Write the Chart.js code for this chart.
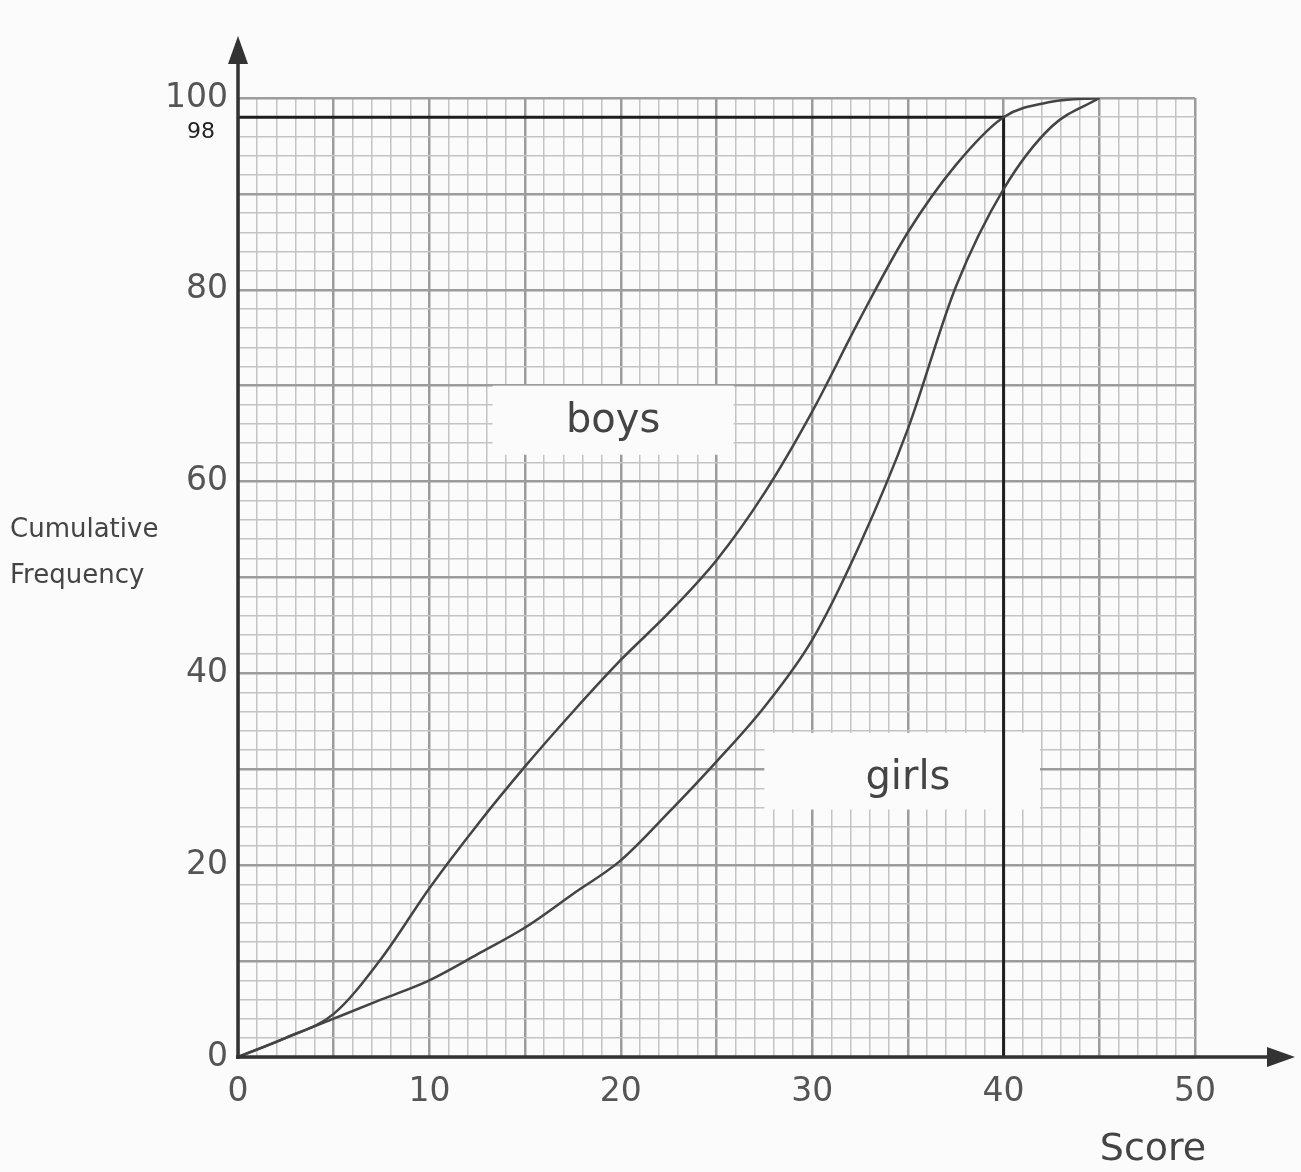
<!doctype html>
<html lang="en">
<head>
    <meta charset="utf-8">
    <title>Cumulative Frequency - boys and girls</title>
    <script src="https://cdn.jsdelivr.net/npm/chart.js"></script>
    <style>
        html, body { margin: 0; padding: 0; background: #fbfbfb; }
        #wrap { width: 1301px; height: 1172px; }
    </style>
</head>
<body>
<div id="wrap"><canvas id="cf"></canvas></div>
<script>
    // scores every 2.5 marks
    var scoreMarks = [0, 2.5, 5, 7.5, 10, 12.5, 15, 17.5, 20, 22.5, 25, 27.5, 30, 32.5, 35, 37.5, 40, 42.5, 45];
    var boysCF = [0, 2, 4.5, 10.3, 17.6, 24.2, 30.3, 36, 41.4, 46.3, 51.8, 58.8, 67.3, 77, 86, 93, 98, 99.6, 100];
    var girlsCF = [0, 2, 4, 6, 8, 10.7, 13.5, 17, 20.5, 25.5, 30.8, 36.5, 43.5, 53.5, 65.5, 80.3, 90.5, 97, 100];

    // the reading drawn at cumulative frequency 98
    var readX = [0, 40, 40];
    var readY = [98, 98, 0];

    var xTickLabels = [0, 10, 20, 30, 40, 50];
    var yTickLabels = [0, 20, 40, 60, 80, 100];

    function toPoints(xs, ys) {
        return xs.map(function (x, i) { return {x: x, y: ys[i]}; });
    }

    var FONT = "'DejaVu Sans', sans-serif";

    var paperPlugin = {
        id: 'paper',
        beforeDatasetsDraw: function (chart) {
            var ctx = chart.ctx, xs = chart.scales.x, ys = chart.scales.y;
            var boxes = [
                {text: 'boys', x0: 13.3, x1: 25.9, y0: 70, y1: 62.8, tx: 19.6, ty: 66.3},
                {text: 'girls', x0: 27.5, x1: 41.9, y0: 33.8, y1: 25.8, tx: 35, ty: 29}
            ];
            ctx.save();
            boxes.forEach(function (b) {
                var l = xs.getPixelForValue(b.x0), r = xs.getPixelForValue(b.x1);
                var t = ys.getPixelForValue(b.y0), bt = ys.getPixelForValue(b.y1);
                ctx.fillStyle = '#fbfbfb';
                ctx.fillRect(l, t, r - l, bt - t);
                ctx.fillStyle = '#444';
                ctx.font = '40px ' + FONT;
                ctx.textAlign = 'center';
                ctx.textBaseline = 'middle';
                ctx.fillText(b.text, xs.getPixelForValue(b.tx), ys.getPixelForValue(b.ty));
            });
            ctx.restore();
        },
        afterDatasetsDraw: function (chart) {
            var ctx = chart.ctx, a = chart.chartArea;
            var ox = a.left, oy = a.bottom;
            ctx.save();
            ctx.strokeStyle = '#333';
            ctx.fillStyle = '#333';
            ctx.lineWidth = 3.5;
            // y axis with arrow
            ctx.beginPath();
            ctx.moveTo(ox, oy + 2);
            ctx.lineTo(ox, 55);
            ctx.stroke();
            ctx.beginPath();
            ctx.moveTo(ox, 36);
            ctx.lineTo(ox - 10, 64);
            ctx.lineTo(ox + 10, 64);
            ctx.closePath();
            ctx.fill();
            // x axis with arrow
            ctx.beginPath();
            ctx.moveTo(ox - 2, oy);
            ctx.lineTo(1275, oy);
            ctx.stroke();
            ctx.beginPath();
            ctx.moveTo(1295, oy);
            ctx.lineTo(1267, oy - 10);
            ctx.lineTo(1267, oy + 10);
            ctx.closePath();
            ctx.fill();

            // titles
            ctx.fillStyle = '#444';
            ctx.textAlign = 'left';
            ctx.textBaseline = 'middle';
            ctx.font = '26px ' + FONT;
            ctx.fillText('Cumulative', 10, 530);
            ctx.fillText('Frequency', 10, 576);
            ctx.font = '38px ' + FONT;
            ctx.textAlign = 'center';
            ctx.fillText('Score', 1153, 1150);

            // handwritten 98
            ctx.fillStyle = '#222';
            ctx.font = '22px ' + FONT;
            ctx.fillText('98', ox - 37, chart.scales.y.getPixelForValue(98) + 15);
            ctx.restore();
        }
    };

    var ctx = document.getElementById('cf');
    var chart = new Chart(ctx, {
        type: 'line',
        data: {
            datasets: [{
                label: 'boys',
                data: toPoints(scoreMarks, boysCF),
                borderColor: '#444',
                borderWidth: 2.5,
                cubicInterpolationMode: 'monotone',
                pointRadius: 0,
                fill: false
            }, {
                label: 'girls',
                data: toPoints(scoreMarks, girlsCF),
                borderColor: '#444',
                borderWidth: 2.5,
                cubicInterpolationMode: 'monotone',
                pointRadius: 0,
                fill: false
            }, {
                label: 'reading',
                data: toPoints(readX, readY),
                borderColor: '#1e1e1e',
                borderWidth: 3,
                tension: 0,
                pointRadius: 0,
                fill: false,
                clip: 6
            }]
        },
        options: {
            responsive: true,
            maintainAspectRatio: false,
            animation: false,
            layout: {
                padding: {top: 98, right: 106, bottom: 0, left: 0}
            },
            scales: {
                x: {
                    type: 'linear',
                    min: 0,
                    max: 50,
                    afterFit: function (scale) { scale.height = 115; },
                    border: {display: false},
                    grid: {
                        drawTicks: false,
                        color: function (c) { return c.tick.value % 5 === 0 ? '#9c9c9c' : '#c4c4c4'; },
                        lineWidth: function (c) { return c.tick.value % 5 === 0 ? 2.5 : 1.5; }
                    },
                    ticks: {
                        stepSize: 1,
                        maxTicksLimit: 100,
                        autoSkip: false,
                        maxRotation: 0,
                        padding: 16,
                        color: '#555',
                        font: {family: FONT, size: 33},
                        callback: function (v) { return xTickLabels.indexOf(v) >= 0 ? String(v) : ''; }
                    }
                },
                y: {
                    min: 0,
                    max: 100,
                    afterFit: function (scale) { scale.width = 238; },
                    border: {display: false},
                    grid: {
                        drawTicks: false,
                        color: function (c) { return c.tick.value % 10 === 0 ? '#9c9c9c' : '#c4c4c4'; },
                        lineWidth: function (c) { return c.tick.value % 10 === 0 ? 2.5 : 1.5; }
                    },
                    ticks: {
                        stepSize: 2,
                        maxTicksLimit: 100,
                        autoSkip: false,
                        padding: 10,
                        color: '#555',
                        font: {family: FONT, size: 33},
                        callback: function (v) { return yTickLabels.indexOf(v) >= 0 ? String(v) : ''; }
                    }
                }
            },
            plugins: {
                legend: {display: false},
                tooltip: {enabled: false}
            }
        },
        plugins: [paperPlugin]
    });
</script>
</body>
</html>
